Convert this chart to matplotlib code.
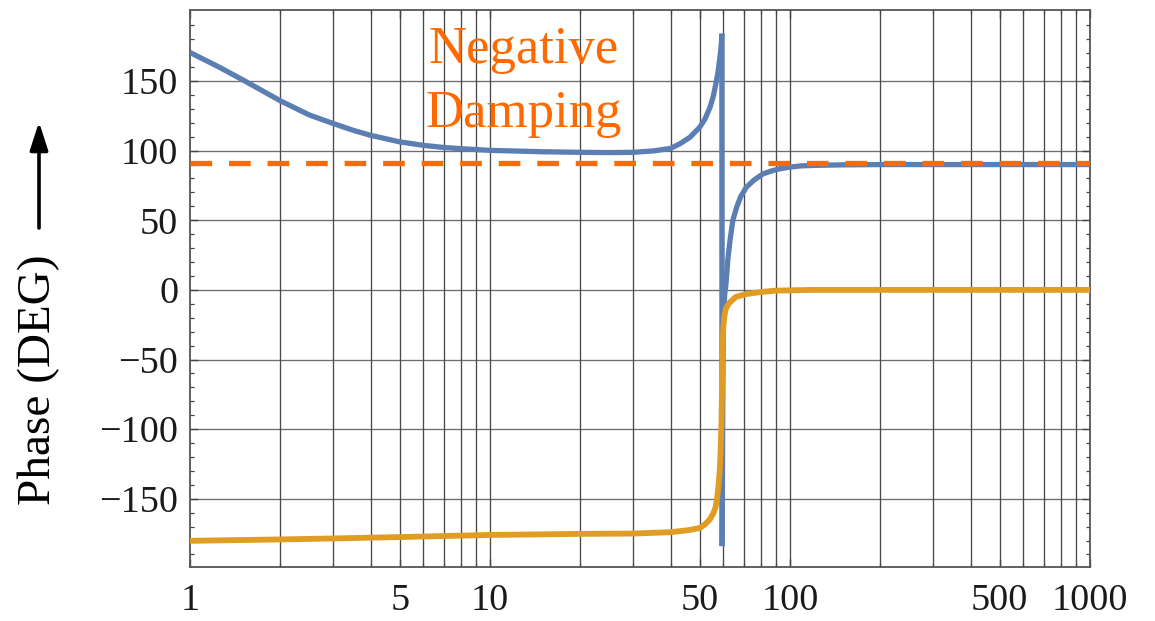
import matplotlib
matplotlib.use("Agg")
import matplotlib.pyplot as plt
from matplotlib.patches import FancyArrowPatch, ArrowStyle
from matplotlib.ticker import FixedLocator, NullFormatter, FixedFormatter

# Phase response: left branch of the first series (below resonance)
freq_a_low = [1, 1.25, 1.5, 1.7, 2, 2.5, 3, 3.5, 4, 5, 6, 7, 8, 10, 15, 20,
              25, 30, 35, 40, 43, 46.4, 50, 52, 54.1, 55.5, 56.6, 57.4, 58,
              58.7, 59.1, 59.3]
phase_a_low = [170.5, 160, 150.8, 144.3, 135.8, 125.6, 119.5, 114.6, 111,
               106.3, 103.8, 102.3, 101.4, 100.2, 99.2, 98.8, 98.6, 98.8,
               99.8, 101.6, 105, 109.6, 116.8, 122.5, 131, 139, 148, 155,
               162, 171, 178, 184]

# First series above resonance (after the wrap at +/-180)
freq_a_high = [59.35, 59.5, 59.7, 59.9, 60.2, 60.6, 61.2, 62, 63.1, 64.5,
               66.4, 68.5, 71.5, 76, 81.4, 87, 92.5, 100, 108, 120, 150,
               200, 400, 1000]
phase_a_high = [-184, -150, -80, -29, -14, -3, 4.6, 21, 35.5, 50, 59.4, 67,
                73.7, 79, 83.4, 85.5, 87, 88.2, 89, 89.4, 89.8, 90, 90, 90]

# Second series
freq_b = [1, 2, 3, 5, 10, 20, 30, 40, 46, 50, 52, 54, 55.5, 56.5, 57.2,
          57.8, 58.3, 58.6, 59.1, 59.4, 59.7, 59.9, 60.3, 61, 62, 63, 66,
          71.5, 80, 90, 120, 200, 1000]
phase_b = [-180.2, -179.2, -178.5, -177.5, -176, -175.2, -175, -174, -172.5,
           -171, -168.5, -165, -160.5, -156, -149, -140, -130, -120, -95,
           -65, -40, -28, -20, -14, -11, -9, -5, -3, -1.5, -0.5, 0, 0, 0]

# Reference level
ref_level = 91

x_major = [1, 5, 10, 50, 100, 500, 1000]
x_major_labels = ["1", "5", "10", "50", "100", "500", "1000"]
x_grid = [1, 2, 3, 4, 5, 6, 7, 8, 9, 10, 20, 30, 40, 50, 60, 70, 80, 90,
          100, 200, 300, 400, 500, 600, 700, 800, 900, 1000]
y_major = [-150, -100, -50, 0, 50, 100, 150]

annotation_lines = ["Negative", "Damping"]
ylabel_text = "Phase (DEG)"

blue = "#5b7eb3"
gold = "#e19c24"
orange = "#ff6a00"
grid_c = "#4a4a4a"

plt.rcParams["font.family"] = ["Liberation Serif", "DejaVu Serif"]
plt.rcParams["axes.unicode_minus"] = True

fig = plt.figure(figsize=(11.55, 6.21), dpi=100)
ax = fig.add_axes([190 / 1155, 1 - 567 / 621, 900 / 1155, 557 / 621])

ax.set_xscale("log")
ax.set_xlim(1, 1000)
ax.set_ylim(-199, 201)

# grid
for gx in x_grid[1:-1]:
    ax.axvline(gx, color=grid_c, lw=0.95, zorder=1)
for gy in y_major:
    ax.axhline(gy, color=grid_c, lw=0.95, alpha=0.8, zorder=1)

ax.plot(freq_a_low, phase_a_low, color=blue, lw=3.8, zorder=3,
        solid_joinstyle="round", solid_capstyle="butt")
ax.plot([freq_a_low[-1], freq_a_high[0]], [phase_a_low[-1], phase_a_high[0]],
        color=blue, lw=3.9, zorder=3, solid_capstyle="butt")
ax.plot(freq_a_high, phase_a_high, color=blue, lw=3.8, zorder=3,
        solid_joinstyle="round", solid_capstyle="butt")
ax.plot(freq_b, phase_b, color=gold, lw=4.2, zorder=4,
        solid_joinstyle="round", solid_capstyle="butt")

ax.axhline(ref_level, color=orange, lw=3.8, zorder=5,
           linestyle=(0, (4.1, 3.2)), dash_capstyle="butt")

# ticks
ax.xaxis.set_major_locator(FixedLocator(x_major))
ax.xaxis.set_major_formatter(FixedFormatter(x_major_labels))
ax.xaxis.set_minor_locator(FixedLocator(x_grid))
ax.xaxis.set_minor_formatter(NullFormatter())
ax.yaxis.set_major_locator(FixedLocator(y_major))
ax.yaxis.set_minor_locator(FixedLocator(list(range(-190, 200, 10))))

ax.tick_params(axis="both", which="both", direction="in", top=True,
               right=True, color="#444444")
ax.tick_params(axis="both", which="major", length=6, width=1.0,
               labelsize=27.5, labelcolor="#1a1a1a")
ax.tick_params(axis="both", which="minor", length=3, width=0.9)
ax.tick_params(axis="y", which="major", pad=8.5)
ax.tick_params(axis="x", which="major", pad=12)

for s in ax.spines.values():
    s.set_color("#555555")
    s.set_linewidth(1.3)

# annotation
fig.text(524 / 1155, 1 - 63 / 621, annotation_lines[0], color=orange,
         fontsize=38, ha="center", va="baseline")
fig.text(524 / 1155, 1 - 127 / 621, annotation_lines[1], color=orange,
         fontsize=38, ha="center", va="baseline")

# y label with upward arrow
fig.text(39 / 1155, 1 - 380 / 621, ylabel_text, rotation=90, fontsize=34,
         ha="center", va="center", color="black")
arrow = FancyArrowPatch((39 / 1155, 1 - 228 / 621), (39 / 1155, 1 - 122 / 621),
                        transform=fig.transFigure,
                        arrowstyle=ArrowStyle("-|>", head_length=17,
                                              head_width=5.5),
                        mutation_scale=1, lw=2.6, color="black",
                        shrinkA=0, shrinkB=0)
fig.add_artist(arrow)

fig.savefig("out.png", dpi=100, facecolor="white")
